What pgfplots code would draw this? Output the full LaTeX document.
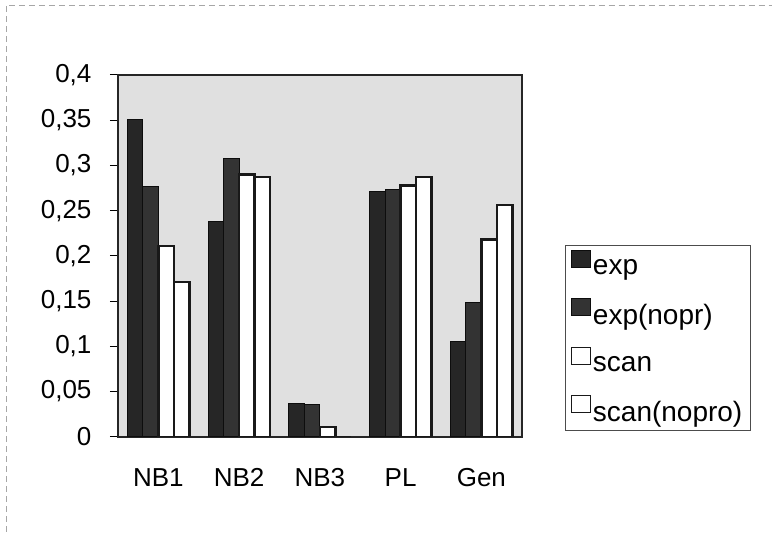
\documentclass[border=0pt]{standalone}
\usepackage{pgfplots}
\pgfplotsset{compat=1.18}
\usepackage{fontspec}
\setmainfont{Liberation Sans}
\begin{document}
\begin{tikzpicture}
\path (0,0) rectangle (772pt,532pt);
\draw[black!35, line width=0.8pt, dash pattern=on 6pt off 4pt] (6pt,0pt) -- (6pt,527pt) -- (772pt,527pt);
\begin{axis}[
  at={(118pt,95pt)}, anchor=south west,
  scale only axis, width=404pt, height=362pt,
  ybar=0pt, bar width=15.5pt,
  xmin=-0.5, xmax=4.5, ymin=0, ymax=0.4,
  xtick={0,1,2,3,4}, xticklabels={NB1,NB2,NB3,PL,Gen},
  xtick style={draw=none},
  ytick={0,0.05,0.1,0.15,0.2,0.25,0.3,0.35,0.4},
  /pgf/number format/fixed, /pgf/number format/precision=2,
  /pgf/number format/use comma, /pgf/number format/assume math mode=true,
  ytick align=outside, ytick pos=left, major tick length=8pt,
  tick style={black, line width=1pt},
  ticklabel style={font=\fontsize{26}{28}\selectfont},
  yticklabel style={xshift=-15pt},
  xticklabel style={yshift=-20pt},
  axis line style={line width=1.8pt, black!85},
  axis background/.style={fill=black!12},
  legend style={at={(1.1064,0.530)}, anchor=north west, draw=black!70, line width=0.6pt,
    fill=white, font=\fontsize{28}{30}\selectfont, row sep=19.5pt,
    inner xsep=6pt, inner ysep=5pt, nodes={inner xsep=2pt}},
  legend cell align=left,
  legend image code/.code={\draw[#1, line width=1pt] (0pt,0pt) rectangle (19pt,17pt);},
]
\addplot[fill=black!85, draw=black!95, line width=1pt] coordinates {(0,0.351) (1,0.238) (2,0.037) (3,0.271) (4,0.105)};
\addplot[fill=black!80, draw=black!95, line width=1pt] coordinates {(0,0.277) (1,0.308) (2,0.036) (3,0.273) (4,0.148)};
\addplot[fill=white, draw=black!90, line width=2.5pt] coordinates {(0,0.211) (1,0.290) (2,0.011) (3,0.278) (4,0.218)};
\addplot[fill=white, draw=black!90, line width=2.5pt] coordinates {(0,0.171) (1,0.287) (2,0.0) (3,0.287) (4,0.256)};
\legend{exp,exp(nopr),scan,scan(nopro)\hspace{6pt}}
\end{axis}
\end{tikzpicture}
\end{document}
